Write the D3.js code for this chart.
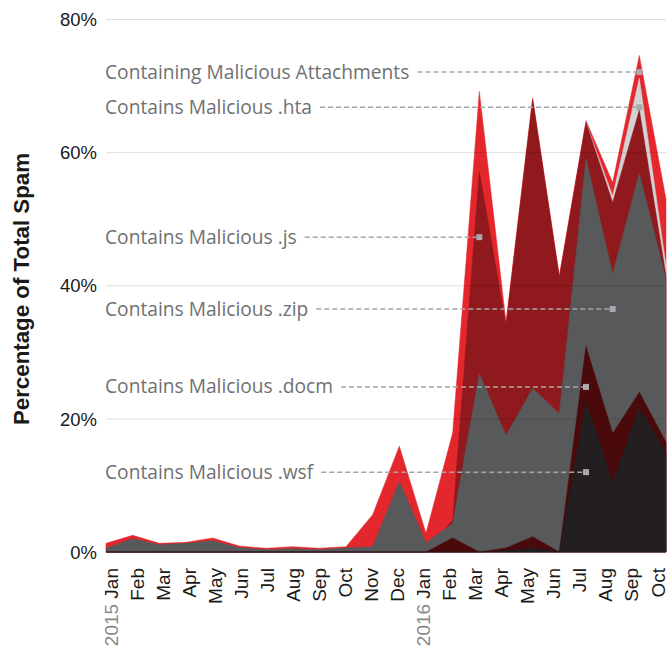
<!DOCTYPE html>
<html>
<head>
<meta charset="utf-8">
<script src="https://cdn.jsdelivr.net/npm/d3@7"></script>
<style>
  html, body { margin: 0; padding: 0; background: #fff; }
  svg { display: block; }
</style>
</head>
<body>
<svg id="chart" width="670" height="649"></svg>
<script>
// ---- Data (percent of total spam), Jan 2015 .. Oct 2016 ----
const months = ["Jan","Feb","Mar","Apr","May","Jun","Jul","Aug","Sep","Oct","Nov","Dec",
                "Jan","Feb","Mar","Apr","May","Jun","Jul","Aug","Sep","Oct"];
const years  = ["2015","","","","","","","","","","","",
                "2016","","","","","","","","",""];

const attachments = [1.3,2.5,1.3,1.45,2.1,0.9,0.55,0.8,0.55,0.8,5.6,15.9,
                     2.8,17.9,69.2,34.5,68.2,41.5,64.8,55.5,74.6,53];
const hta  = [0,0,0,0,0,0,0,0,0,0,0,0, 0,0,0,0,0,0,64.5,53.5,71.2,43];
const js   = [0,0,0,0,0,0,0,0,0,0,0,0, 0,4.8,57.1,34,67.9,41.2,64.5,52.5,66.4,41.5];
const zip  = [0.55,2.0,1.1,1.3,1.7,0.65,0.35,0.5,0.35,0.6,0.8,10.6,
              1.4,4.3,26.8,17.5,24.6,20.8,59.1,41.8,56.9,41];
const docm = [0,0,0,0,0,0,0,0,0,0,0,0, 0,2.1,0,0.6,2.3,0,30.9,17.8,24,16.5];
const wsf  = [0,0,0,0,0,0,0,0,0,0,0,0, 0,0,0,0.2,0.6,0,22.6,10.5,21.6,15];

const yTicks = [0, 20, 40, 60, 80];

// series drawn back to front
const seriesNames  = ["Containing Malicious Attachments","Contains Malicious .hta","Contains Malicious .js",
                      "Contains Malicious .zip","Contains Malicious .docm","Contains Malicious .wsf"];
const seriesValues = [attachments, hta, js, zip, docm, wsf];
const seriesColors = ["#e4262d", "#d1d3d4", "#8f191c", "#58595b", "#4a0a0b", "#231f20"];

// annotation anchors: month index and value (percent) of the marker
const annoMonth = [20, 20, 14, 19, 18, 18];
const annoValue = [72.1, 66.8, 47.3, 36.5, 24.8, 12.0];

// ---- Layout ----
const svg = d3.select("#chart");
const x = d3.scalePoint().domain(d3.range(months.length)).range([106, 666]);
const xLab = d3.scalePoint().domain(d3.range(months.length)).range([118, 664.5]);
const y = d3.scaleLinear().domain([0, 80]).range([552, 19.5]);

// Areas
const area = d3.area()
  .x((d, i) => x(i))
  .y0(y(0))
  .y1(d => y(d));

svg.append("g").selectAll("path")
  .data(seriesValues)
  .join("path")
  .attr("d", d => area(d))
  .attr("fill", (d, i) => seriesColors[i])
  .attr("stroke", (d, i) => seriesColors[i])
  .attr("stroke-width", 0.5)
  .attr("stroke-linejoin", "miter");

// Gridlines (over areas, translucent)
svg.append("g").selectAll("line")
  .data(yTicks)
  .join("line")
  .attr("x1", 106).attr("x2", 666)
  .attr("y1", d => y(d)).attr("y2", d => y(d))
  .attr("stroke", "#000").attr("stroke-opacity", 0.13).attr("stroke-width", 1);

// Y tick labels
svg.append("g").selectAll("text")
  .data(yTicks)
  .join("text")
  .attr("x", 97)
  .attr("y", d => y(d))
  .attr("dy", "0.36em")
  .attr("text-anchor", "end")
  .attr("font-family", "Liberation Sans, Arial, sans-serif")
  .attr("font-size", 18.5)
  .attr("fill", "#1a1a1a")
  .text(d => d + "%");

// Y axis title
svg.append("text")
  .attr("transform", "translate(29,289) rotate(-90)")
  .attr("text-anchor", "middle")
  .attr("font-family", "Liberation Sans, Arial, sans-serif")
  .attr("font-weight", "bold")
  .attr("font-size", 22.3)
  .attr("fill", "#1a1a1a")
  .text("Percentage of Total Spam");

// X tick labels (rotated)
const xl = svg.append("g").selectAll("text")
  .data(months)
  .join("text")
  .attr("transform", (d, i) => `translate(${xLab(i)},568) rotate(-90)`)
  .attr("text-anchor", "end")
  .attr("font-family", "Liberation Sans, Arial, sans-serif")
  .attr("font-size", 19)
  .attr("fill", "#1a1a1a");
xl.each(function(d, i) {
  const t = d3.select(this);
  if (years[i]) t.append("tspan").attr("fill", "#8a8a8a").text(years[i] + " ");
  t.append("tspan").text(d);
});

// Annotations
const ag = svg.append("g");
seriesNames.forEach((name, i) => {
  const ly = y(annoValue[i]);
  const mx = x(annoMonth[i]);
  const t = ag.append("text")
    .attr("x", 105)
    .attr("y", ly + 6.5)
    .attr("font-family", "Open Sans, sans-serif")
    .attr("font-size", 19.2)
    .attr("fill", "#707072")
    .text(name);
  const w = t.node().getComputedTextLength();
  ag.append("line")
    .attr("x1", 105 + w + 8).attr("x2", mx - 3)
    .attr("y1", ly).attr("y2", ly)
    .attr("stroke", "#a5a5a5").attr("stroke-width", 1.5)
    .attr("stroke-dasharray", "5,3");
  ag.append("rect")
    .attr("x", mx - 3).attr("y", ly - 3)
    .attr("width", 6).attr("height", 6)
    .attr("fill", "#a7a9ac");
});
</script>
</body>
</html>
